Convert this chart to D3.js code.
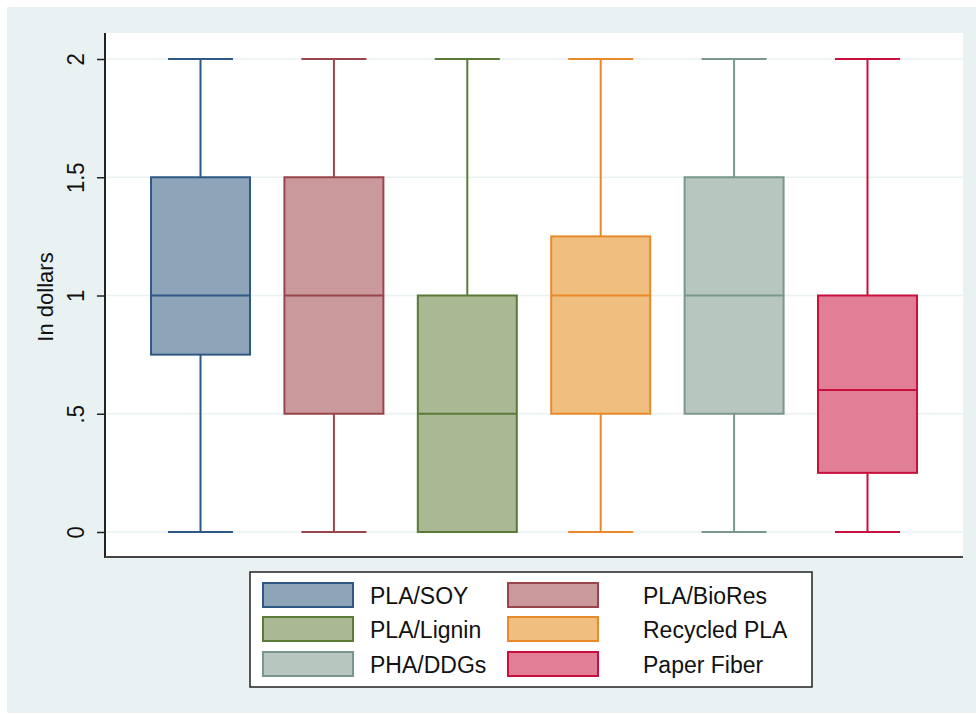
<!DOCTYPE html>
<html>
<head>
<meta charset="utf-8">
<script src="https://cdn.jsdelivr.net/npm/d3@7"></script>
<style>
  html, body { margin: 0; padding: 0; background: #ffffff; }
  svg { display: block; font-family: "Liberation Sans", Arial, sans-serif; }
</style>
</head>
<body>
<svg id="chart" width="976" height="714"></svg>
<script>
// Price premium (in dollars) by material type
const categories = ["PLA/SOY", "PLA/BioRes", "PLA/Lignin", "Recycled PLA", "PHA/DDGs", "Paper Fiber"];
const lowerAdj  = [0,    0,   0,   0,    0,   0   ];
const q1        = [0.75, 0.5, 0,   0.5,  0.5, 0.25];
const medians   = [1,    1,   0.5, 1,    1,   0.6 ];
const q3        = [1.5,  1.5, 1,   1.25, 1.5, 1   ];
const upperAdj  = [2,    2,   2,   2,    2,   2   ];
const yTicks    = [0, 0.5, 1, 1.5, 2];
const yTickLabels = ["0", ".5", "1", "1.5", "2"];
const yTitle = "In dollars";

const fills   = ["#8da4b9", "#c9999b", "#aab993", "#f0be7e", "#b7c7c0", "#e07f96"];
const strokes = ["#2f5985", "#98454b", "#5a7a37", "#e8892a", "#7a978d", "#c8103f"];

const svg = d3.select("#chart");

// page background
svg.append("rect").attr("x", 7).attr("y", 7).attr("width", 969).attr("height", 706)
  .attr("fill", "#eaf1f3");

const plot = { left: 105, right: 963, top: 33, bottom: 557 };
svg.append("rect").attr("x", plot.left).attr("y", plot.top)
  .attr("width", plot.right - plot.left).attr("height", plot.bottom - plot.top)
  .attr("fill", "#ffffff");

const x = d3.scalePoint().domain(categories).range([plot.left, plot.right]).padding(0.716);
const y = d3.scaleLinear().domain([0, 2]).range([532, 59]);

// gridlines
svg.append("g").selectAll("line").data(yTicks).join("line")
  .attr("x1", plot.left).attr("x2", plot.right)
  .attr("y1", d => y(d)).attr("y2", d => y(d))
  .attr("stroke", "#eaf1f3").attr("stroke-width", 1.5);

// y axis
const yAxis = d3.axisLeft(y).tickValues(yTicks)
  .tickFormat((d, i) => yTickLabels[i]).tickSize(8).tickSizeOuter(0);
const gy = svg.append("g").attr("transform", `translate(${plot.left},0)`).call(yAxis);
gy.select(".domain").remove();
gy.selectAll(".tick line").attr("stroke", "#222").attr("stroke-width", 1.5);
gy.selectAll(".tick text")
  .attr("x", null).attr("dy", null)
  .attr("transform", "translate(-21,0) rotate(-90) scale(1,1.1)")
  .attr("text-anchor", "middle")
  .attr("fill", "#111")
  .style("font-size", "22px")
  .style("font-family", "'Liberation Sans', Arial, sans-serif");

// axis lines
svg.append("line").attr("x1", plot.left).attr("x2", plot.left)
  .attr("y1", plot.top).attr("y2", plot.bottom + 1)
  .attr("stroke", "#222").attr("stroke-width", 2);
svg.append("line").attr("x1", plot.left).attr("x2", plot.right)
  .attr("y1", plot.bottom).attr("y2", plot.bottom)
  .attr("stroke", "#444").attr("stroke-width", 2);

// y title
svg.append("text")
  .attr("transform", `translate(53,${(plot.top + plot.bottom) / 2 + 2}) rotate(-90)`)
  .attr("text-anchor", "middle")
  .attr("fill", "#111")
  .style("font-size", "22px")
  .text(yTitle);

// boxes
const step = x.step();
const boxW = step * 0.742;
const capW = 65;
const rows = categories.map((c, i) => ({
  c, i, lo: lowerAdj[i], q1: q1[i], med: medians[i], q3: q3[i], hi: upperAdj[i]
}));

const g = svg.append("g").selectAll("g").data(rows).join("g");
// upper whisker
g.append("line")
  .attr("x1", d => x(d.c)).attr("x2", d => x(d.c))
  .attr("y1", d => y(d.hi)).attr("y2", d => y(d.q3))
  .attr("stroke", d => strokes[d.i]).attr("stroke-width", 2);
g.append("line")
  .attr("x1", d => x(d.c) - capW / 2).attr("x2", d => x(d.c) + capW / 2)
  .attr("y1", d => y(d.hi)).attr("y2", d => y(d.hi))
  .attr("stroke", d => strokes[d.i]).attr("stroke-width", 2);
// lower whisker
g.filter(d => d.lo < d.q1).append("line")
  .attr("x1", d => x(d.c)).attr("x2", d => x(d.c))
  .attr("y1", d => y(d.q1)).attr("y2", d => y(d.lo))
  .attr("stroke", d => strokes[d.i]).attr("stroke-width", 2);
g.filter(d => d.lo < d.q1).append("line")
  .attr("x1", d => x(d.c) - capW / 2).attr("x2", d => x(d.c) + capW / 2)
  .attr("y1", d => y(d.lo)).attr("y2", d => y(d.lo))
  .attr("stroke", d => strokes[d.i]).attr("stroke-width", 2);
// box
g.append("rect")
  .attr("x", d => x(d.c) - boxW / 2).attr("width", boxW)
  .attr("y", d => y(d.q3)).attr("height", d => y(d.q1) - y(d.q3))
  .attr("fill", d => fills[d.i]).attr("stroke", d => strokes[d.i]).attr("stroke-width", 2);
// median
g.append("line")
  .attr("x1", d => x(d.c) - boxW / 2).attr("x2", d => x(d.c) + boxW / 2)
  .attr("y1", d => y(d.med)).attr("y2", d => y(d.med))
  .attr("stroke", d => strokes[d.i]).attr("stroke-width", 2);

// legend
const leg = svg.append("g");
leg.append("rect").attr("x", 250).attr("y", 572).attr("width", 562).attr("height", 115)
  .attr("fill", "#ffffff").attr("stroke", "#222").attr("stroke-width", 1.5);
const colX = [263, 508];
const rowY = [583, 617, 652];
const items = leg.selectAll("g").data(categories).join("g")
  .attr("transform", (d, i) => `translate(${colX[i % 2]},${rowY[Math.floor(i / 2)]})`);
items.append("rect").attr("width", 90).attr("height", 24)
  .attr("fill", (d, i) => fills[i]).attr("stroke", (d, i) => strokes[i]).attr("stroke-width", 2);
items.append("text").attr("x", (d, i) => i % 2 === 0 ? 107 : 135).attr("y", 21)
  .attr("fill", "#111").style("font-size", "23px").text(d => d);
</script>
</body>
</html>
